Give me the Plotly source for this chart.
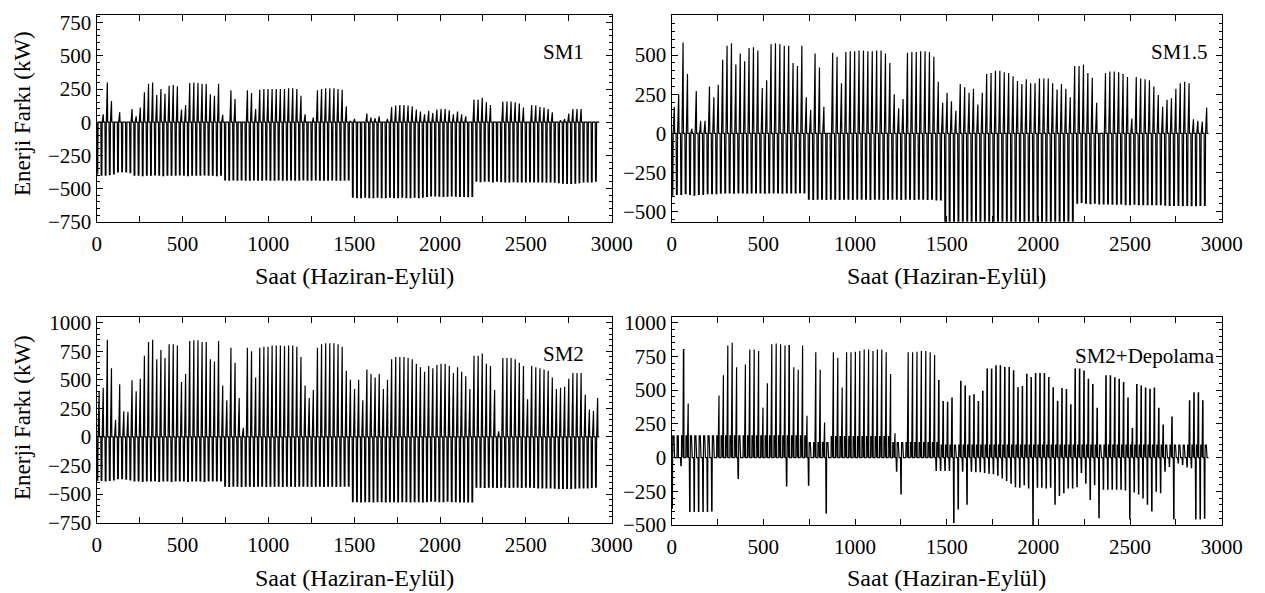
import plotly.graph_objects as go

# ---------------- data ----------------
days = list(range(122))          # day index, June-September (24 h each)
hours_per_day = 24

SM1_peak = [0, 60, 300, 160, 0, 75, 0, 0, 100, 45,
            110, 225, 290, 300, 205, 250, 215, 275, 280, 270,
            95, 130, 295, 300, 295, 290, 290, 210, 200, 290,
            55, 0, 240, 175, 0, 0, 240, 220, 100, 245,
            250, 250, 250, 250, 250, 250, 255, 255, 250, 200,
            60, 0, 35, 240, 250, 255, 255, 255, 250, 245,
            120, 10, 25, 0, 0, 65, 35, 30, 45, 0,
            25, 115, 125, 130, 130, 125, 120, 95, 80, 60,
            85, 70, 95, 100, 100, 90, 60, 80, 60, 45,
            0, 170, 170, 185, 150, 130, 0, 0, 155, 155,
            155, 150, 140, 110, 0, 130, 125, 115, 110, 100,
            75, 0, 15, 25, 65, 100, 100, 100, 0, 0,
            0, 0]
SM1_trough = [-395, -400, -400, -395, -390, -375, -372, -375, -380, -400,
              -400, -402, -400, -400, -398, -400, -402, -400, -400, -400,
              -398, -400, -402, -400, -400, -400, -398, -400, -400, -402,
              -400, -435, -437, -435, -437, -435, -437, -437, -435, -437,
              -437, -435, -437, -437, -435, -437, -437, -435, -437, -437,
              -435, -437, -437, -435, -437, -437, -437, -435, -437, -437,
              -437, -435, -565, -568, -568, -565, -568, -568, -565, -568,
              -568, -565, -568, -568, -565, -568, -568, -565, -568, -565,
              -560, -555, -555, -558, -560, -558, -555, -558, -560, -560,
              -562, -560, -445, -448, -445, -445, -450, -445, -448, -450,
              -450, -448, -450, -450, -450, -448, -450, -450, -450, -452,
              -450, -452, -455, -460, -462, -462, -460, -455, -450, -450,
              -450, -445]

SM15_peak = [170, 250, 580, 380, 30, 270, 80, 80, 300, 230,
             310, 470, 560, 575, 440, 510, 460, 545, 550, 530,
             290, 340, 570, 575, 570, 560, 560, 450, 430, 560,
             230, 150, 510, 420, 170, 0, 515, 490, 320, 520,
             525, 525, 530, 530, 525, 525, 530, 530, 510, 450,
             250, 160, 220, 515, 520, 520, 525, 525, 520, 490,
             330, 195, 260, 205, 145, 315, 295, 260, 285, 185,
             260, 380, 385, 400, 400, 390, 385, 365, 335, 315,
             345, 320, 320, 350, 350, 350, 320, 280, 315, 285,
             230, 430, 430, 440, 385, 355, 195, 0, 385, 395,
             395, 390, 380, 360, 95, 360, 350, 345, 340, 300,
             245, 170, 215, 225, 285, 320, 330, 320, 90, 80,
             75, 165]
SM15_trough = [-400, -390, -390, -385, -390, -395, -390, -390, -385, -385,
               -385, -382, -380, -380, -382, -380, -380, -382, -380, -380,
               -380, -382, -380, -380, -380, -382, -380, -380, -380, -378,
               -380, -420, -422, -420, -420, -422, -420, -420, -422, -420,
               -420, -422, -420, -420, -420, -422, -420, -420, -422, -420,
               -420, -420, -422, -420, -420, -422, -420, -420, -422, -420,
               -425, -425, -575, -575, -575, -575, -575, -575, -575, -575,
               -575, -575, -575, -575, -575, -575, -575, -575, -575, -575,
               -575, -575, -575, -575, -575, -575, -575, -575, -575, -575,
               -575, -575, -445, -440, -445, -448, -445, -450, -450, -450,
               -452, -452, -450, -455, -455, -452, -455, -455, -455, -455,
               -455, -455, -458, -460, -460, -460, -462, -460, -462, -462,
               -460, -460]

SM2_peak = [400, 430, 850, 600, 150, 460, 225, 220, 495, 400,
            510, 710, 830, 850, 680, 760, 690, 810, 810, 800,
            480, 550, 840, 845, 845, 830, 830, 680, 660, 840,
            450, 320, 780, 650, 340, 80, 780, 750, 520, 780,
            790, 790, 800, 800, 800, 795, 800, 800, 790, 700,
            450, 340, 410, 780, 810, 820, 820, 820, 810, 790,
            580, 500, 420, 500, 320, 590, 550, 520, 550, 420,
            500, 680, 700, 700, 700, 690, 680, 640, 610, 570,
            620, 600, 630, 640, 640, 620, 560, 610, 570, 530,
            420, 710, 710, 730, 640, 620, 410, 50, 690, 690,
            690, 680, 650, 620, 330, 620, 610, 600, 590, 580,
            520, 420, 430, 440, 510, 560, 560, 560, 370, 240,
            230, 340]
SM2_trough = [-385, -380, -385, -380, -375, -365, -365, -370, -375, -385,
              -385, -388, -385, -385, -385, -388, -385, -385, -388, -385,
              -385, -385, -388, -385, -385, -385, -388, -385, -385, -385,
              -385, -430, -432, -430, -430, -432, -430, -430, -432, -430,
              -430, -432, -430, -430, -430, -432, -430, -430, -432, -430,
              -430, -430, -432, -430, -430, -432, -430, -430, -432, -430,
              -430, -430, -565, -565, -568, -565, -565, -568, -565, -565,
              -568, -565, -565, -568, -565, -565, -568, -565, -565, -568,
              -565, -562, -562, -565, -565, -562, -565, -565, -568, -568,
              -568, -568, -440, -440, -442, -440, -440, -442, -440, -440,
              -442, -440, -440, -442, -440, -440, -442, -445, -445, -445,
              -445, -448, -450, -450, -450, -450, -448, -445, -445, -445,
              -442, -440]

SM2S_peak = [0, 0, 800, 400, 0, 0, 0, 0, 0, 0,
             460, 610, 830, 850, 670, 0, 690, 800, 800, 790,
             370, 550, 840, 845, 840, 830, 830, 670, 650, 830,
             310, 0, 780, 650, 260, 0, 780, 740, 520, 780,
             780, 785, 790, 800, 800, 790, 800, 800, 780, 620,
             180, 0, 0, 780, 780, 785, 790, 790, 780, 760,
             570, 415, 410, 440, 0, 565, 530, 455, 465, 415,
             490, 655, 655, 680, 680, 667, 667, 642, 516, 525,
             617, 592, 622, 622, 622, 592, 516, 416, 511, 504,
             390, 655, 655, 640, 580, 540, 365, 0, 605, 605,
             590, 580, 555, 440, 214, 540, 530, 515, 505, 515,
             365, 240, 0, 300, 0, 0, 0, 420, 480, 480,
             420, 0]
SM2S_band = [160, 160, 160, 160, 160, 160, 160, 160, 160, 160,
             160, 160, 160, 160, 160, 160, 160, 160, 160, 160,
             160, 160, 160, 160, 160, 160, 160, 160, 160, 160,
             160, 110, 110, 110, 110, 110, 155, 155, 155, 155,
             155, 155, 155, 155, 155, 155, 155, 155, 155, 155,
             110, 110, 110, 110, 110, 110, 110, 110, 110, 110,
             110, 92, 92, 92, 92, 92, 92, 92, 92, 92,
             92, 92, 92, 92, 92, 92, 92, 92, 92, 92,
             92, 92, 92, 92, 92, 92, 92, 92, 92, 92,
             92, 92, 92, 92, 92, 92, 92, 92, 92, 92,
             92, 92, 92, 92, 92, 92, 92, 92, 92, 92,
             92, 92, 92, 92, 92, 92, 92, 92, 92, 92,
             92, 92]
SM2S_neg = [-380, 0, -60, 0, -400, -400, -400, -400, -400, -395,
            0, 0, 0, 0, 0, -155, 0, 0, 0, 0,
            0, 0, 0, 0, 0, 0, -210, 0, 0, 0,
            0, -205, 0, 0, 0, -410, 0, 0, 0, 0,
            0, 0, 0, 0, 0, 0, 0, 0, 0, 0,
            0, -100, -270, 0, 0, 0, 0, 0, 0, 0,
            -95, -95, -95, -95, -480, -380, -100, -345, -100, -105,
            -105, -110, -115, -120, -130, -150, -170, -190, -215, -220,
            -200, -225, -510, -220, -220, -225, -220, -345, -280, -260,
            -225, -225, -215, -110, -190, -310, -200, -445, -235, -235,
            -235, -235, -235, -240, -455, -255, -270, -300, -345, -395,
            -250, -260, -100, -65, -455, -40, -50, -70, -75, -455,
            -455, -450]

x_ticks = [0, 500, 1000, 1500, 2000, 2500, 3000]
panel_labels = ["SM1", "SM1.5", "SM2", "SM2+Depolama"]
x_title = "Saat (Haziran-Eylül)"
y_title = "Enerji Farkı (kW)"


# ---------------- build hourly-like paths ----------------
def day_path(peaks, troughs):
    xs, ys = [], []
    for d, p, t in zip(days, peaks, troughs):
        b = d * hours_per_day
        xs += [b, b + 2, b + 6, b + 8, b + 12, b + 14, b + 16]
        ys += [0, t, t, 0, max(p, 0), max(p, 0), 0]
    xs.append(len(days) * hours_per_day)
    ys.append(0)
    return xs, ys


def day_path_storage(peaks, bands, negs):
    xs, ys = [], []
    for d, p, s, n in zip(days, peaks, bands, negs):
        b = d * hours_per_day
        xs += [b, b + 2, b + 4, b + 5, b + 6, b + 12, b + 13, b + 16, b + 18, b + 19]
        ys += [0, n, n, 0, s, s, 0, max(p, 0), max(p, 0), 0]
    xs.append(len(days) * hours_per_day)
    ys.append(0)
    return xs, ys


fig = go.Figure()
line = dict(color="black", width=1.2)

for (pk, tr), ax in [((SM1_peak, SM1_trough), ("x", "y")),
                     ((SM15_peak, SM15_trough), ("x2", "y2")),
                     ((SM2_peak, SM2_trough), ("x3", "y3"))]:
    xs, ys = day_path(pk, tr)
    fig.add_trace(go.Scatter(x=xs, y=ys, mode="lines", line=line,
                             xaxis=ax[0], yaxis=ax[1], showlegend=False,
                             hoverinfo="skip"))
xs, ys = day_path_storage(SM2S_peak, SM2S_band, SM2S_neg)
fig.add_trace(go.Scatter(x=xs, y=ys, mode="lines", line=line,
                         xaxis="x4", yaxis="y4", showlegend=False,
                         hoverinfo="skip"))

# page body adds an 8px offset; the figure is sized/positioned to compensate
OFF = 8
W, H = 1265 - OFF, 593 - OFF
FONT = "Liberation Serif, Times New Roman, DejaVu Serif, serif"
tickfont = dict(family=FONT, size=21, color="black")

# panel frames in screen pixels: (left, right, top, bottom)
frames = {
    1: (96.7, 611.7, 15.0, 221.7),
    2: (671.7, 1221.7, 15.0, 221.7),
    3: (96.7, 611.7, 316.7, 522.7),
    4: (671.7, 1221.7, 316.7, 525.0),
}
yranges = {1: [-750, 808], 2: [-564, 756], 3: [-750, 1052], 4: [-500, 1044]}


def px(xpix):
    return (xpix - OFF) / W


def py(ypix):
    return (H - (ypix - OFF)) / H


def xdom(i):
    l, r, _, _ = frames[i]
    return [px(l), px(r)]


def ydom(i):
    _, _, t, b = frames[i]
    return [py(b), py(t)]


axis_common = dict(showline=True, linecolor="black", linewidth=1.3,
                   mirror="allticks", ticks="inside", tickwidth=1,
                   tickcolor="black", showgrid=False, zeroline=False,
                   tickfont=tickfont, automargin=False)

layout = dict(width=W, height=H, autosize=False,
              margin=dict(l=0, r=0, t=0, b=0, pad=0),
              paper_bgcolor="white", plot_bgcolor="white",
              showlegend=False)
for i in range(1, 5):
    sx = "" if i == 1 else str(i)
    layout["xaxis" + sx] = dict(axis_common, domain=xdom(i),
                                anchor="y" + sx, range=[0, 3000],
                                tickvals=x_ticks, ticklen=6,
                                ticklabelstandoff=3,
                                minor=dict(dtick=250, ticklen=6,
                                           ticks="inside",
                                           tickcolor="black"))
    layout["yaxis" + sx] = dict(axis_common, domain=ydom(i),
                                anchor="x" + sx, range=yranges[i],
                                dtick=250, tick0=0, ticklen=6,
                                minor=dict(dtick=50, ticklen=3,
                                           ticks="inside",
                                           tickcolor="black"))
fig.update_layout(**layout)

annotations = []
label_pos = {1: (2850, 527), 2: (2935, 521), 3: (2852, 723), 4: (2973, 756)}
for i, name in zip(range(1, 5), panel_labels):
    sx = "" if i == 1 else str(i)
    annotations.append(dict(text=name, x=label_pos[i][0], y=label_pos[i][1],
                            xref="x" + sx, yref="y" + sx, xanchor="right",
                            yanchor="middle", showarrow=False,
                            font=dict(family=FONT, size=21, color="black")))
for i in range(1, 5):
    l, r, t, b = frames[i]
    ty = 276 if i in (1, 2) else 578
    annotations.append(dict(text=x_title, x=px((l + r) / 2), y=py(ty),
                            xref="paper", yref="paper", xanchor="center",
                            yanchor="middle", showarrow=False,
                            font=dict(family=FONT, size=24, color="black")))
for cy in (114, 418):
    annotations.append(dict(text=y_title, x=px(22), y=py(cy),
                            xref="paper", yref="paper", xanchor="center",
                            yanchor="middle", showarrow=False, textangle=-90,
                            font=dict(family=FONT, size=23, color="black")))
fig.update_layout(annotations=annotations)

fig.write_html("out.html")
